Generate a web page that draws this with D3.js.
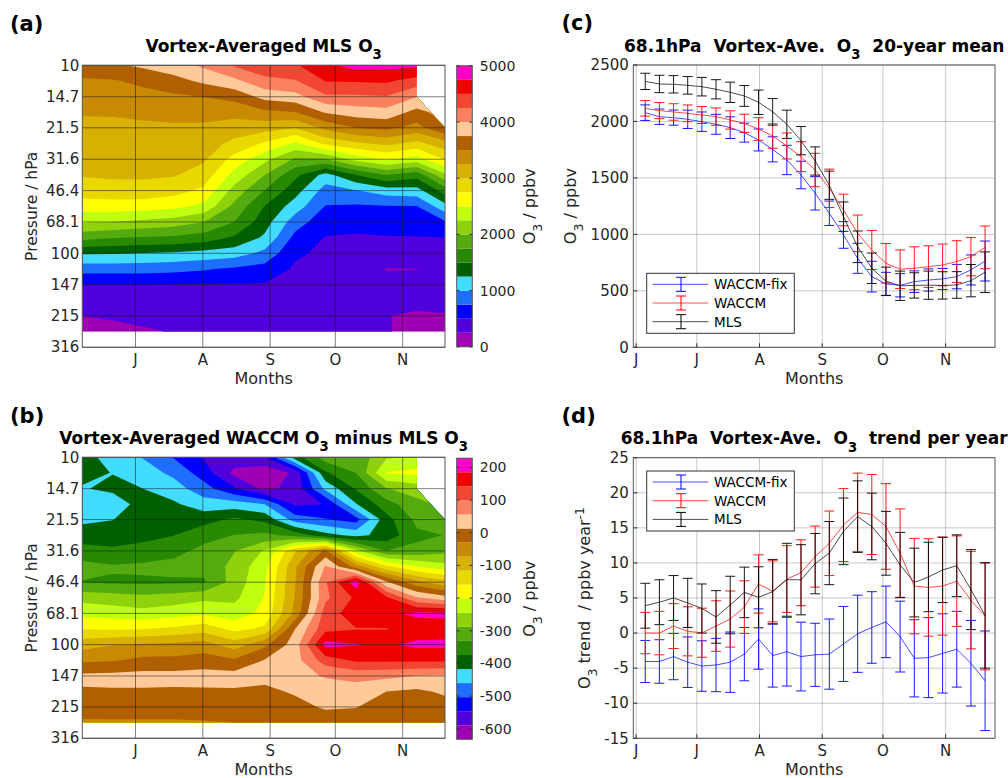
<!DOCTYPE html>
<html>
<head>
<meta charset="utf-8">
<script src="https://cdn.jsdelivr.net/npm/d3@7"></script>
<style>
  body { margin: 0; background: #fff; }
  svg text { font-family: "DejaVu Sans", sans-serif; }
</style>
</head>
<body>
<svg id="fig" width="1008" height="778"></svg>
<script>
// ---- shared axes data ----
const levels = [10, 12.1, 14.7, 17.8, 21.5, 26.1, 31.6, 38.3, 46.4, 56.2, 68.1, 82.5, 100, 121, 147, 178, 215, 261];
const gridDays = [157.5, 171.5, 185.5, 199.5, 213.5, 227.5, 241.5, 255.5, 269.5, 283.5, 297.5, 311.5, 324.5];
const pressureTicks = [10, 14.7, 21.5, 31.6, 46.4, 68.1, 100, 147, 215, 316];
const monthDays = [152, 182, 213, 244, 274, 305];
const monthLabels = ['J', 'J', 'A', 'S', 'O', 'N'];
// data coverage (last valid day per level) -> white corner top right
const coverLevels = [10, 14.7, 21.5, 261];
const coverEnd = [311.5, 311.5, 324.5, 324.5];

const o3Colors = ['#a000b4', '#5000dc', '#0000ff', '#1e6eff', '#41dcff', '#006000', '#288a00', '#55aa10',
  '#8fd10a', '#c0ff10', '#ffff00', '#e8d800', '#d8b000', '#c88a00', '#b06000', '#ffc999', '#fa8060',
  '#f04632', '#ee0000', '#ff00c8'];

// ---- panel (a): MLS O3 (ppbv), one profile per grid day, top (10 hPa) to bottom (261 hPa) ----
const mlsO3Cols = [
  [3694, 3463, 3364, 3266, 3201, 3140, 3080, 3019, 2868, 2631, 2278, 1836, 1275, 853, 494, 372, 252, 152],
  [3715, 3480, 3373, 3268, 3204, 3148, 3092, 3036, 2907, 2631, 2253, 1763, 1272, 853, 494, 386, 279, 182],
  [3795, 3560, 3411, 3292, 3213, 3154, 3096, 3037, 2907, 2621, 2191, 1731, 1243, 853, 494, 402, 311, 222],
  [3895, 3663, 3457, 3318, 3218, 3152, 3087, 3021, 2844, 2573, 2128, 1706, 1218, 828, 491, 415, 339, 262],
  [4045, 3807, 3504, 3333, 3207, 3119, 3032, 2886, 2697, 2439, 2003, 1635, 1168, 778, 488, 423, 358, 291],
  [4275, 3940, 3580, 3328, 3139, 2931, 2659, 2417, 2157, 1930, 1751, 1467, 1118, 716, 485, 424, 364, 301],
  [4390, 4190, 3830, 3440, 3100, 2710, 2320, 2000, 1740, 1490, 1359, 1207, 931, 654, 482, 422, 362, 300],
  [4470, 4233, 3905, 3488, 3006, 2450, 1963, 1563, 1357, 1131, 869, 680, 534, 468, 426, 384, 343, 300],
  [4697, 4513, 4205, 3769, 3319, 2800, 1988, 1156, 894, 739, 594, 489, 457, 426, 394, 363, 332, 300],
  [4850, 4520, 4209, 3867, 3505, 2950, 2340, 1500, 988, 718, 561, 479, 445, 300, 376, 342, 308, 275],
  [4830, 4540, 4233, 3900, 3567, 3050, 2529, 1750, 1122, 739, 600, 487, 442, 246, 275, 265, 252, 262],
  [4800, 4398, 4006, 3666, 3413, 2928, 2390, 1600, 1150, 745, 613, 490, 440, 248, 290, 270, 240, 200],
  [4700, 4400, 4100, 3850, 3717, 3138, 2767, 2194, 1620, 1161, 722, 498, 446, 300, 340, 300, 240, 180]
];

// ---- panel (b): WACCM minus MLS O3 (ppbv) ----
const diffO3Cols = [
  [-395, -407, -420, -440, -425, -398, -356, -317, -333, -259, -215, -160, -90, -38, 22, 9, -13, -35],
  [-440, -418, -408, -440, -418, -393, -367, -326, -337, -268, -222, -165, -75, -34, 25, 9, -12, -35],
  [-462, -440, -417, -400, -395, -385, -360, -322, -338, -276, -230, -160, -68, -19, 28, 8, -12, -35],
  [-505, -470, -440, -410, -394, -375, -343, -318, -337, -268, -220, -150, -64, -19, 28, 7, -12, -35],
  [-550, -525, -485, -440, -390, -345, -320, -318, -336, -254, -210, -133, -55, -10, 30, 7, -12, -33],
  [-565, -600, -540, -440, -365, -330, -290, -275, -270, -255, -225, -170, -95, -25, 30, 8, -10, -30],
  [-550, -620, -600, -460, -385, -320, -240, -215, -205, -200, -190, -150, -40, 15, 30, 0, -12, -28],
  [-395, -580, -575, -555, -480, -345, -120, -80, -75, -70, -60, 13, 35, 40, 40, 20, -5, -25],
  [-310, -380, -450, -545, -500, -400, -20, 60, 95, 90, 120, 130, 200, 120, 60, 30, 20, -20],
  [-320, -330, -370, -420, -520, -430, -230, -50, 210, 150, 165, 140, 188, 150, 70, 35, 15, -15],
  [-250, -200, -290, -350, -390, -400, -330, -150, 20, 150, 175, 140, 178, 150, 65, 13, -10, -25],
  [-240, -190, -270, -300, -320, -340, -320, -200, -60, 60, 195, 160, 195, 150, 55, 5, -15, -25],
  [-260, -250, -260, -280, -300, -330, -300, -230, -100, 30, 195, 165, 195, 150, 50, 20, -5, -20]
];

// ---- panels (c),(d): weekly series at 68.1 hPa ----
const weekDays = [156.5, 163.5, 170.5, 177.5, 184.5, 191.5, 198.5, 205.5, 212.5, 219.5, 226.5, 233.5, 240.5,
  247.5, 254.5, 261.5, 268.5, 275.5, 282.5, 289.5, 296.5, 303.5, 310.5, 317.5, 324.5];

const fixMean = [2078, 2042, 2034, 2019, 1998, 1975, 1945, 1901, 1836, 1753, 1659, 1526, 1364, 1187, 995, 788, 626, 561, 549, 581, 596, 605, 626, 685, 764];
const fixErr = [69, 68, 67, 81, 86, 88, 96, 84, 97, 111, 130, 122, 148, 108, 118, 133, 136, 103, 103, 96, 98, 93, 108, 133, 177];
const waccmMean = [2116, 2096, 2084, 2072, 2057, 2043, 2013, 1983, 1933, 1871, 1783, 1688, 1570, 1408, 1216, 1009, 862, 744, 691, 700, 714, 729, 759, 803, 885];
const waccmErr = [69, 71, 73, 74, 75, 77, 81, 81, 100, 108, 115, 133, 148, 170, 140, 162, 173, 175, 171, 190, 185, 185, 185, 170, 189];
const mlsMean = [2355, 2332, 2329, 2320, 2308, 2285, 2258, 2226, 2170, 2085, 1975, 1830, 1650, 1435, 1157, 890, 700, 585, 545, 548, 550, 548, 552, 590, 665];
const mlsErr = [72, 77, 77, 78, 82, 85, 90, 92, 108, 118, 125, 125, 125, 125, 130, 140, 135, 125, 130, 112, 125, 121, 118, 143, 180];

const fixTrend = [-4.05, -4.05, -3.35, -4.15, -4.7, -4.55, -4.15, -3.0, -0.85, -3.2, -2.65, -3.35, -3.1, -3.0, -1.55, -0.1, 0.8, 1.6, -0.5, -3.6, -3.5, -2.9, -2.3, -4.3, -6.8];
const fixTrendErr = [3.0, 3.1, 3.3, 3.6, 3.6, 3.8, 4.3, 3.8, 4.3, 4.5, 4.9, 4.9, 4.5, 5.0, 5.35, 5.5, 5.1, 5.1, 5.05, 5.5, 5.7, 5.65, 5.4, 6.1, 7.1];
const waccmTrend = [0.0, 0.0, 1.0, 0.25, 0.05, 1.0, 2.0, 3.7, 7.0, 5.95, 7.7, 8.6, 10.9, 12.8, 15.4, 17.2, 16.9, 15.2, 11.4, 6.7, 6.5, 6.7, 7.4, 4.7, 2.4];
const waccmTrendErr = [2.95, 3.1, 3.2, 3.5, 3.5, 3.6, 4.0, 3.75, 4.15, 4.35, 4.75, 4.7, 4.35, 4.6, 5.2, 5.6, 5.7, 6.1, 6.3, 6.8, 6.95, 7.0, 6.45, 6.95, 7.65];
const mlsTrend = [3.9, 4.4, 5.0, 4.3, 3.5, 2.3, 4.0, 5.8, 5.1, 5.9, 7.6, 7.6, 9.9, 11.4, 14.5, 16.6, 15.2, 12.8, 9.7, 7.2, 8.0, 9.0, 9.6, 6.2, 2.5];
const mlsTrendErr = [3.2, 3.2, 3.2, 3.5, 3.5, 3.75, 4.1, 3.6, 4.35, 4.6, 5.2, 5.0, 4.3, 4.5, 4.75, 5.1, 4.75, 4.55, 4.65, 4.9, 4.95, 4.65, 4.4, 5.7, 7.5];

const seriesNames = ['WACCM-fix', 'WACCM', 'MLS'];
const seriesColors = ['#0000ff', '#ff0000', '#000000'];

const svg = d3.select('#fig');
const TXT = '#262626';

// text with sub/superscript parts: ['O', ['3','sub'], ' / ppbv']
function addLabel(g, o) {
  const t = g.append('text')
    .attr('text-anchor', o.anchor || 'start')
    .attr('font-size', o.size)
    .attr('font-weight', o.weight || 'normal')
    .attr('fill', o.color || TXT)
    .attr('xml:space', 'preserve')
    .style('white-space', 'pre');
  if (o.rotate) t.attr('transform', `translate(${o.x},${o.y}) rotate(-90)`);
  else t.attr('x', o.x).attr('y', o.y);
  let shift = 0;
  o.parts.forEach(p => {
    const [str, kind] = Array.isArray(p) ? p : [p, null];
    const target = kind === 'sub' ? o.size * 0.45 : kind === 'sup' ? -o.size * 0.4 : 0;
    const ts = t.append('tspan').attr('dy', target - shift).text(str);
    if (kind) ts.attr('font-size', o.size * 0.78);
    shift = target;
  });
  return t;
}

function contourPanel(o) {
  const g = svg.append('g');
  const n = gridDays.length, m = levels.length;
  const x = d3.scaleLinear().domain([gridDays[0], gridDays[n - 1]]).range([o.left, o.right]);
  const y = d3.scaleLog().domain([10, 316.2]).range([o.top, o.bottom]);

  const values = new Array(n * m);
  o.cols.forEach((col, i) => col.forEach((v, j) => { values[i + j * n] = v; }));
  const step = (o.hi - o.lo) / 20;
  const thresholds = d3.range(20).map(k => o.lo + k * step);
  const contours = d3.contours().size([n, m]).thresholds(thresholds)(values);

  const logLv = levels.map(Math.log10);
  const lerp = (arr, t) => {
    t = Math.max(0, Math.min(arr.length - 1, t));
    const i = Math.min(arr.length - 2, Math.floor(t));
    return arr[i] + (arr[i + 1] - arr[i]) * (t - i);
  };
  const proj = d3.geoTransform({
    point(px, py) {
      this.stream.point(x(lerp(gridDays, px - 0.5)), y(Math.pow(10, lerp(logLv, py - 0.5))));
    }
  });
  const path = d3.geoPath(proj);

  const clipId = 'clip-' + o.id;
  const clipPts = [[gridDays[0], levels[0]]]
    .concat(coverLevels.map((p, i) => [coverEnd[i], p]))
    .concat([[gridDays[0], levels[m - 1]]]);
  g.append('clipPath').attr('id', clipId).append('path')
    .attr('d', d3.line()(clipPts.map(d => [x(d[0]), y(d[1])])) + 'Z');

  g.append('g').attr('clip-path', `url(#${clipId})`)
    .selectAll('path').data(contours).join('path')
    .attr('d', path)
    .attr('fill', (d, i) => o3Colors[i]);

  // grid
  const grid = g.append('g').attr('stroke', '#1a1a1a').attr('stroke-opacity', 0.55).attr('stroke-width', 1);
  pressureTicks.forEach(p => grid.append('line').attr('x1', o.left).attr('x2', o.right).attr('y1', y(p)).attr('y2', y(p)));
  monthDays.forEach(d => {
    if (d <= x.domain()[0]) return;
    grid.append('line').attr('x1', x(d)).attr('x2', x(d)).attr('y1', o.top).attr('y2', o.bottom);
  });
  g.append('rect').attr('x', o.left).attr('y', o.top).attr('width', o.right - o.left).attr('height', o.bottom - o.top)
    .attr('fill', 'none').attr('stroke', '#555').attr('stroke-width', 1);

  // tick labels
  pressureTicks.forEach(p => g.append('text').attr('x', o.left - 3).attr('y', y(p)).attr('dy', '0.35em')
    .attr('text-anchor', 'end').attr('font-size', 15).attr('fill', TXT).text(p));
  monthDays.forEach((d, i) => {
    if (d <= x.domain()[0]) return;
    g.append('text').attr('x', x(d)).attr('y', o.bottom + 18).attr('text-anchor', 'middle')
      .attr('font-size', 15).attr('fill', TXT).text(monthLabels[i]);
  });
  addLabel(g, { x: (o.left + o.right) / 2, y: o.bottom + 36.5, anchor: 'middle', size: 16, parts: ['Months'] });
  addLabel(g, { x: 37, y: (o.top + o.bottom) / 2, rotate: true, anchor: 'middle', size: 15.5, parts: ['Pressure / hPa'] });
  addLabel(g, { x: (o.left + o.right) / 2, y: o.top - 13.5, anchor: 'middle', size: 17, weight: 'bold', color: '#000', parts: o.title });
  addLabel(g, { x: 10, y: o.top - 34.8, size: 21, weight: 'bold', color: '#000', parts: [o.letter] });

  // colorbar
  const cb = d3.scaleLinear().domain([o.lo, o.hi]).range([o.cbBottom, o.cbTop]);
  thresholds.forEach((t, k) => g.append('rect')
    .attr('x', o.cbLeft).attr('width', o.cbRight - o.cbLeft)
    .attr('y', cb(t + step)).attr('height', cb(t) - cb(t + step))
    .attr('fill', o3Colors[k]));
  g.append('rect').attr('x', o.cbLeft).attr('y', o.cbTop).attr('width', o.cbRight - o.cbLeft)
    .attr('height', o.cbBottom - o.cbTop).attr('fill', 'none').attr('stroke', '#555');
  o.cbTicks.forEach(v => {
    g.append('line').attr('x1', o.cbLeft).attr('x2', o.cbLeft + 3).attr('y1', cb(v)).attr('y2', cb(v)).attr('stroke', '#333');
    g.append('line').attr('x1', o.cbRight - 3).attr('x2', o.cbRight).attr('y1', cb(v)).attr('y2', cb(v)).attr('stroke', '#333');
    g.append('text').attr('x', o.cbRight + 7.5).attr('y', cb(v)).attr('dy', '0.35em')
      .attr('font-size', 14).attr('fill', TXT).text(v);
  });
  addLabel(g, { x: 535, y: (o.cbTop + o.cbBottom) / 2, rotate: true, anchor: 'middle', size: 16, parts: ['O', ['3', 'sub'], ' / ppbv'] });
}

function linePanel(o) {
  const g = svg.append('g');
  const x = d3.scaleLinear().domain([150.6, 329.4]).range([633.3, 995]);
  const y = d3.scaleLinear().domain(o.yDomain).range([o.bottom, o.top]);
  const L = 633.3, R = 995;

  const grid = g.append('g').attr('stroke', '#000').attr('stroke-opacity', 0.22).attr('stroke-width', 1);
  o.yTicks.forEach(v => grid.append('line').attr('x1', L).attr('x2', R).attr('y1', y(v)).attr('y2', y(v)));
  monthDays.forEach(d => grid.append('line').attr('x1', x(d)).attr('x2', x(d)).attr('y1', o.top).attr('y2', o.bottom));

  const line = d3.line().x((d, i) => x(weekDays[i])).y(d => y(d));
  o.series.forEach((s, k) => {
    const col = seriesColors[k];
    g.append('path').datum(s.mean).attr('d', line).attr('fill', 'none')
      .attr('stroke', col).attr('stroke-width', 1).attr('stroke-opacity', 0.7);
    const eb = g.append('g').attr('stroke', col).attr('stroke-width', 1).attr('stroke-opacity', 0.9);
    s.mean.forEach((mv, i) => {
      const cx = x(weekDays[i]), y1 = y(mv + s.err[i]), y2 = y(mv - s.err[i]);
      eb.append('line').attr('x1', cx).attr('x2', cx).attr('y1', y1).attr('y2', y2);
      eb.append('line').attr('x1', cx - 5).attr('x2', cx + 5).attr('y1', y1).attr('y2', y1);
      eb.append('line').attr('x1', cx - 5).attr('x2', cx + 5).attr('y1', y2).attr('y2', y2);
    });
  });

  g.append('rect').attr('x', L).attr('y', o.top).attr('width', R - L).attr('height', o.bottom - o.top)
    .attr('fill', 'none').attr('stroke', '#555');
  o.yTicks.forEach(v => {
    g.append('line').attr('x1', L).attr('x2', L + 4).attr('y1', y(v)).attr('y2', y(v)).attr('stroke', '#333');
    g.append('text').attr('x', L - 4.5).attr('y', y(v)).attr('dy', '0.35em').attr('text-anchor', 'end')
      .attr('font-size', 15).attr('fill', TXT).text(v);
  });
  monthDays.forEach((d, i) => {
    g.append('line').attr('x1', x(d)).attr('x2', x(d)).attr('y1', o.bottom).attr('y2', o.bottom - 4).attr('stroke', '#333');
    g.append('text').attr('x', x(d)).attr('y', o.bottom + 18).attr('text-anchor', 'middle')
      .attr('font-size', 15).attr('fill', TXT).text(monthLabels[i]);
  });
  addLabel(g, { x: (L + R) / 2, y: o.bottom + 36.5, anchor: 'middle', size: 16, parts: ['Months'] });
  addLabel(g, { x: o.ylabX, y: (o.top + o.bottom) / 2, rotate: true, anchor: 'middle', size: 16, parts: o.ylabel });
  addLabel(g, { x: (L + R) / 2, y: o.top - 13.5, anchor: 'middle', size: 17, weight: 'bold', color: '#000', parts: o.title });
  addLabel(g, { x: 561.5, y: o.top - 34.8, size: 21, weight: 'bold', color: '#000', parts: [o.letter] });

  // legend
  const lg = g.append('g');
  const lx = 646.7, ly = o.legTop, lw = 147.6, lh = 60;
  lg.append('rect').attr('x', lx).attr('y', ly).attr('width', lw).attr('height', lh)
    .attr('fill', '#fff').attr('stroke', '#333');
  seriesNames.forEach((name, k) => {
    const yy = ly + 11 + k * 18.7;
    const col = seriesColors[k];
    lg.append('line').attr('x1', lx + 6).attr('x2', lx + 61.6).attr('y1', yy).attr('y2', yy)
      .attr('stroke', col).attr('stroke-opacity', 0.7);
    const ex = lx + 34.3;
    [[ex, ex, yy - 7, yy + 7], [ex - 5, ex + 5, yy - 7, yy - 7], [ex - 5, ex + 5, yy + 7, yy + 7]].forEach(s =>
      lg.append('line').attr('x1', s[0]).attr('x2', s[1]).attr('y1', s[2]).attr('y2', s[3]).attr('stroke', col));
    lg.append('text').attr('x', lx + 67.3).attr('y', yy).attr('dy', '0.36em').attr('font-size', 13.5)
      .attr('fill', '#000').text(name);
  });
}

contourPanel({
  id: 'a', letter: '(a)', cols: mlsO3Cols, lo: 0, hi: 5000,
  left: 82.3, right: 445, top: 65.3, bottom: 347.3,
  cbLeft: 456.7, cbRight: 472.3, cbTop: 65.8, cbBottom: 346.8,
  cbTicks: [0, 1000, 2000, 3000, 4000, 5000],
  title: ['Vortex-Averaged MLS O', ['3', 'sub']]
});
contourPanel({
  id: 'b', letter: '(b)', cols: diffO3Cols, lo: -632, hi: 228,
  left: 82.3, right: 445, top: 457.3, bottom: 738.3,
  cbLeft: 456.7, cbRight: 472.3, cbTop: 458.2, cbBottom: 739.3,
  cbTicks: [-600, -500, -400, -300, -200, -100, 0, 100, 200],
  title: ['Vortex-Averaged WACCM O', ['3', 'sub'], ' minus MLS O', ['3', 'sub']]
});
linePanel({
  letter: '(c)', top: 65, bottom: 347.3, yDomain: [0, 2500], yTicks: [0, 500, 1000, 1500, 2000, 2500],
  legTop: 273.3, ylabX: 576,
  ylabel: ['O', ['3', 'sub'], ' / ppbv'],
  title: ['68.1hPa  Vortex-Ave.  O', ['3', 'sub'], '  20-year mean'],
  series: [{ mean: fixMean, err: fixErr }, { mean: waccmMean, err: waccmErr }, { mean: mlsMean, err: mlsErr }]
});
linePanel({
  letter: '(d)', top: 457.7, bottom: 738.3, yDomain: [-15, 25], yTicks: [-15, -10, -5, 0, 5, 10, 15, 20, 25],
  legTop: 471, ylabX: 590,
  ylabel: ['O', ['3', 'sub'], ' trend  / ppbv year', ['-1', 'sup']],
  title: ['68.1hPa  Vortex-Ave.  O', ['3', 'sub'], '  trend per year'],
  series: [{ mean: fixTrend, err: fixTrendErr }, { mean: waccmTrend, err: waccmTrendErr }, { mean: mlsTrend, err: mlsTrendErr }]
});
</script>
</body>
</html>
